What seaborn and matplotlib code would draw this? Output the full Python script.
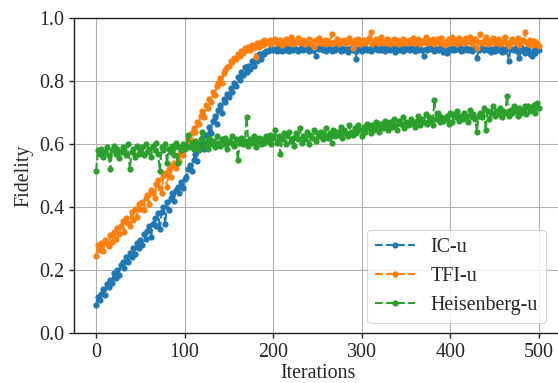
import numpy as np
import pandas as pd
import matplotlib
matplotlib.use("Agg")
import matplotlib.pyplot as plt
import seaborn as sns

iterations = list(range(0, 501, 2))

ic_u = [
    0.090, 0.115, 0.105, 0.125, 0.140, 0.120, 0.155, 0.145, 0.170, 0.160, 0.190, 0.175, 0.200,
    0.185, 0.215, 0.225, 0.205, 0.240, 0.225, 0.255, 0.240, 0.270, 0.250, 0.285, 0.270, 0.295,
    0.280, 0.315, 0.300, 0.325, 0.340, 0.305, 0.345, 0.365, 0.340, 0.380, 0.330, 0.385, 0.400,
    0.345, 0.415, 0.390, 0.430, 0.445, 0.420, 0.455, 0.465, 0.445, 0.480, 0.460, 0.490,
    0.495, 0.520, 0.535, 0.515, 0.550, 0.570, 0.545, 0.585, 0.595, 0.610, 0.585, 0.630, 0.620,
    0.655, 0.635, 0.675, 0.690, 0.665, 0.710, 0.725, 0.700, 0.745, 0.735, 0.760, 0.750, 0.780,
    0.765, 0.795, 0.785, 0.815, 0.805, 0.830, 0.820, 0.845, 0.830, 0.850, 0.840, 0.865, 0.850,
    0.875, 0.865, 0.885, 0.870, 0.890, 0.885, 0.895,
    0.895, 0.900, 0.905, 0.898, 0.902, 0.895, 0.908, 0.900, 0.897, 0.905,
    0.900, 0.910, 0.896, 0.903, 0.899, 0.906, 0.901, 0.895, 0.904, 0.909,
    0.898, 0.902, 0.907, 0.896, 0.903, 0.900, 0.898, 0.880, 0.905, 0.901,
    0.906, 0.899, 0.903, 0.897, 0.910, 0.901, 0.895, 0.904, 0.900, 0.908,
    0.902, 0.896, 0.905, 0.899, 0.903, 0.893, 0.901, 0.907, 0.898, 0.904,
    0.870, 0.900, 0.909, 0.897, 0.903, 0.906, 0.899, 0.902, 0.895, 0.905,
    0.901, 0.908, 0.898, 0.904, 0.900, 0.911, 0.896, 0.903, 0.907, 0.899,
    0.905, 0.902, 0.893, 0.906, 0.900, 0.903, 0.897, 0.909, 0.901, 0.904,
    0.898, 0.906, 0.902, 0.895, 0.907, 0.900, 0.904, 0.898, 0.880, 0.903,
    0.899, 0.905, 0.901, 0.908, 0.896, 0.903, 0.900, 0.906, 0.902, 0.893,
    0.899, 0.890, 0.904, 0.900, 0.907, 0.898, 0.905, 0.901, 0.909, 0.896,
    0.903, 0.900, 0.906, 0.899, 0.904, 0.897, 0.908, 0.902, 0.875, 0.899,
    0.901, 0.906, 0.899, 0.904, 0.898, 0.907, 0.892, 0.902, 0.896, 0.905,
    0.900, 0.908, 0.893, 0.903, 0.897, 0.906, 0.865, 0.901, 0.904, 0.898,
    0.905, 0.893, 0.875, 0.909, 0.897, 0.890, 0.904, 0.900, 0.886, 0.880,
    0.898, 0.891, 0.905, 0.900,
]

tfi_u = [
    0.245, 0.280, 0.265, 0.285, 0.260, 0.295, 0.285, 0.275, 0.310, 0.290, 0.320, 0.300, 0.335,
    0.315, 0.340, 0.355, 0.320, 0.365, 0.350, 0.340, 0.385, 0.360, 0.395, 0.370, 0.410, 0.395,
    0.415, 0.390, 0.430, 0.440, 0.410, 0.455, 0.445, 0.430, 0.475, 0.485, 0.460, 0.445, 0.500,
    0.510, 0.465, 0.520, 0.495, 0.535, 0.540, 0.525, 0.565, 0.545, 0.580, 0.565, 0.590,
    0.600, 0.620, 0.615, 0.635, 0.650, 0.640, 0.670, 0.665, 0.690, 0.705, 0.685, 0.725, 0.715,
    0.745, 0.735, 0.765, 0.755, 0.785, 0.795, 0.810, 0.795, 0.825, 0.835, 0.845, 0.850, 0.865,
    0.860, 0.875, 0.870, 0.885, 0.880, 0.895, 0.890, 0.905, 0.900, 0.910, 0.900, 0.915, 0.905,
    0.876, 0.920, 0.910, 0.925, 0.915, 0.930, 0.920,
    0.922, 0.930, 0.918, 0.927, 0.935, 0.920, 0.925, 0.931, 0.916, 0.928,
    0.933, 0.921, 0.926, 0.940, 0.919, 0.929, 0.924, 0.936, 0.920, 0.927,
    0.931, 0.918, 0.925, 0.934, 0.922, 0.928, 0.910, 0.930, 0.924, 0.937,
    0.920, 0.927, 0.932, 0.918, 0.929, 0.923, 0.950, 0.921, 0.926, 0.933,
    0.917, 0.928, 0.924, 0.931, 0.922, 0.929, 0.936, 0.925, 0.905, 0.930,
    0.923, 0.935, 0.919, 0.927, 0.932, 0.921, 0.928, 0.938, 0.957, 0.918,
    0.929, 0.934, 0.922, 0.927, 0.940, 0.920, 0.926, 0.935, 0.931, 0.919,
    0.925, 0.933, 0.921, 0.930, 0.917, 0.928, 0.935, 0.923, 0.929, 0.920,
    0.932, 0.926, 0.938, 0.921, 0.927, 0.934, 0.918, 0.929, 0.924, 0.941,
    0.922, 0.930, 0.926, 0.935, 0.919, 0.928, 0.933, 0.921, 0.937, 0.925,
    0.916, 0.929, 0.934, 0.920, 0.940, 0.926, 0.931, 0.918, 0.938, 0.924,
    0.930, 0.921, 0.936, 0.927, 0.942, 0.919, 0.928, 0.933, 0.905, 0.926,
    0.950, 0.922, 0.929, 0.940, 0.918, 0.931, 0.925, 0.937, 0.921, 0.928,
    0.933, 0.917, 0.930, 0.926, 0.939, 0.922, 0.912, 0.929, 0.934, 0.924,
    0.924, 0.936, 0.915, 0.928, 0.932, 0.955, 0.926, 0.919, 0.930, 0.914,
    0.927, 0.918, 0.922, 0.913,
]

heisenberg_u = [
    0.515, 0.580, 0.570, 0.585, 0.560, 0.575, 0.590, 0.565, 0.520, 0.580, 0.595, 0.570, 0.585,
    0.555, 0.575, 0.590, 0.580, 0.565, 0.600, 0.520, 0.575, 0.585, 0.560, 0.595, 0.570, 0.580,
    0.590, 0.565, 0.600, 0.575, 0.585, 0.560, 0.595, 0.580, 0.605, 0.570, 0.515, 0.590, 0.580,
    0.600, 0.540, 0.585, 0.575, 0.595, 0.565, 0.605, 0.540, 0.590, 0.580, 0.600, 0.585,
    0.595, 0.630, 0.590, 0.605, 0.585, 0.610, 0.600, 0.580, 0.615, 0.640, 0.595, 0.605, 0.585,
    0.620, 0.600, 0.610, 0.590, 0.625, 0.605, 0.595, 0.615, 0.600, 0.620, 0.585, 0.610, 0.605,
    0.625, 0.595, 0.615, 0.550, 0.605, 0.620, 0.600, 0.610, 0.685, 0.595, 0.615, 0.605, 0.625,
    0.590, 0.610, 0.620, 0.600, 0.615, 0.605, 0.625,
    0.610, 0.630, 0.600, 0.620, 0.645, 0.605, 0.625, 0.570, 0.615, 0.635,
    0.600, 0.625, 0.640, 0.610, 0.620, 0.595, 0.635, 0.615, 0.650, 0.605,
    0.625, 0.615, 0.640, 0.600, 0.630, 0.620, 0.645, 0.610, 0.635, 0.625,
    0.640, 0.615, 0.630, 0.650, 0.620, 0.635, 0.605, 0.645, 0.625, 0.640,
    0.630, 0.655, 0.620, 0.645, 0.635, 0.625, 0.660, 0.640, 0.630, 0.650,
    0.635, 0.660, 0.645, 0.625, 0.655, 0.640, 0.665, 0.650, 0.635, 0.660,
    0.645, 0.670, 0.655, 0.640, 0.665, 0.650, 0.675, 0.660, 0.645, 0.670,
    0.655, 0.680, 0.660, 0.645, 0.675, 0.665, 0.685, 0.650, 0.670, 0.660,
    0.665, 0.680, 0.670, 0.655, 0.675, 0.690, 0.660, 0.680, 0.670, 0.695,
    0.665, 0.685, 0.675, 0.660, 0.740, 0.680, 0.700, 0.670, 0.685, 0.675,
    0.680, 0.690, 0.665, 0.700, 0.670, 0.695, 0.685, 0.705, 0.675, 0.690,
    0.680, 0.700, 0.690, 0.670, 0.710, 0.685, 0.695, 0.680, 0.640, 0.690,
    0.700, 0.685, 0.715, 0.645, 0.705, 0.680, 0.700, 0.720, 0.690, 0.705,
    0.695, 0.715, 0.685, 0.705, 0.700, 0.752, 0.690, 0.710, 0.700, 0.720,
    0.705, 0.690, 0.715, 0.700, 0.710, 0.720, 0.695, 0.720, 0.705, 0.715,
    0.725, 0.700, 0.730, 0.715,
]

series_names = ["IC-u", "TFI-u", "Heisenberg-u"]
series_colors = ["#1f77b4", "#ff7f0e", "#2ca02c"]
x_ticks = [0, 100, 200, 300, 400, 500]
y_ticks = [0.0, 0.2, 0.4, 0.6, 0.8, 1.0]

sns.set_theme(style="ticks")
plt.rcParams["font.family"] = ["Liberation Serif", "DejaVu Serif"]

FS = 14.4

fig = plt.figure(figsize=(5.58, 3.83), dpi=100)
ax = fig.add_axes([74 / 558, 50 / 383, 487 / 558, 314.7 / 383])

for name, vals, col in zip(series_names, [ic_u, tfi_u, heisenberg_u], series_colors):
    df = pd.DataFrame({"Iterations": iterations, "Fidelity": vals})
    sns.lineplot(data=df, x="Iterations", y="Fidelity", ax=ax, color=col, label=name,
                 linestyle="--", marker="o", markersize=4.5, markeredgewidth=0,
                 linewidth=1.5, sort=False)

ax.set_xlim(-25, 525)
ax.set_ylim(0, 1)
ax.set_xticks(x_ticks)
ax.set_yticks(y_ticks)
ax.set_yticklabels([f"{v:.1f}" for v in y_ticks])
ax.grid(True, color="#b0b0b0", linewidth=0.8)
ax.set_axisbelow(True)
for s in ax.spines.values():
    s.set_color("#222222")
    s.set_linewidth(1.0)
ax.tick_params(axis="both", labelsize=FS, color="#222222", length=3.5, width=1,
               direction="out", pad=3.5)
ax.set_xlabel("Iterations", fontsize=FS, labelpad=1.5)
ax.set_ylabel("Fidelity", fontsize=FS, labelpad=4)

leg = ax.legend(loc="lower right", fontsize=FS, frameon=True, fancybox=True,
                framealpha=0.8, edgecolor="#cccccc", borderaxespad=0.5,
                bbox_to_anchor=(0.99, 0.0))
leg.get_frame().set_linewidth(0.8)

fig.savefig("out.png", dpi=100)
